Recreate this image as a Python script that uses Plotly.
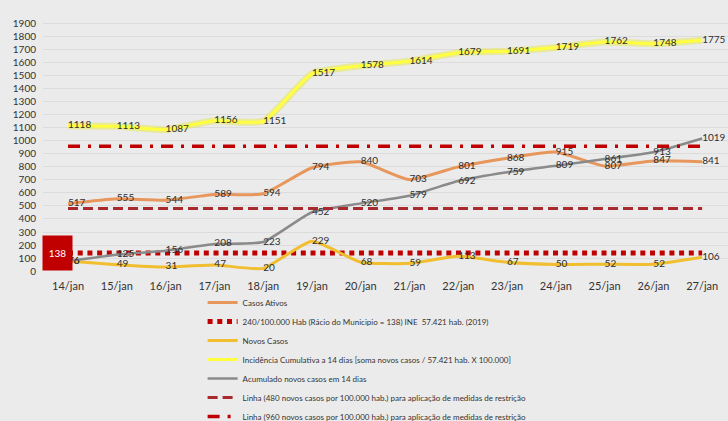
import plotly.graph_objects as go

dates = ["14/jan", "15/jan", "16/jan", "17/jan", "18/jan", "19/jan", "20/jan",
         "21/jan", "22/jan", "23/jan", "24/jan", "25/jan", "26/jan", "27/jan"]
casos_ativos = [517, 555, 544, 589, 594, 794, 840, 703, 801, 868, 915, 807, 847, 841]
ratio_municipio = [138] * 14
novos_casos = [76, 49, 31, 47, 20, 229, 68, 59, 113, 67, 50, 52, 52, 106]
incidencia = [1118, 1113, 1087, 1156, 1151, 1517, 1578, 1614, 1679, 1691, 1719, 1762, 1748, 1775]
acumulado = [76, 125, 156, 208, 223, 452, 520, 579, 692, 759, 809, 861, 913, 1019]
linha_480 = [480] * 14
linha_960 = [960] * 14
y_ticks = list(range(0, 2000, 100))

names = [
    "Casos Ativos",
    "240/100.000 Hab (Rácio do Municipio = 138) INE  57.421 hab. (2019)",
    "Novos Casos",
    "Incidência Cumulativa a 14 dias [soma novos casos / 57.421 hab. X 100.000]",
    "Acumulado novos casos em 14 dias",
    "Linha (480 novos casos por 100.000 hab.) para aplicação de medidas de restrição",
    "Linha (960 novos casos por 100.000 hab.) para aplicação de medidas de restrição",
]

FONT = "Lato"
lbl_font = dict(family=FONT, size=10, color="#2e2e2e")

fig = go.Figure()

# Casos Ativos
fig.add_trace(go.Scatter(
    x=dates, y=casos_ativos, name=names[0], mode="lines+text",
    line=dict(color="#E8975C", width=3, shape="spline", smoothing=0.5),
    text=[str(v) for v in casos_ativos], textposition="middle right",
    textfont=lbl_font, cliponaxis=False))

# 138 dotted line
fig.add_trace(go.Scatter(
    x=dates, y=ratio_municipio, name=names[1], mode="lines",
    line=dict(color="#C00000", width=5, dash="5px,4.7px")))

# Novos Casos
fig.add_trace(go.Scatter(
    x=dates, y=novos_casos, name=names[2], mode="lines+text",
    line=dict(color="#F0BE2E", width=3, shape="spline", smoothing=0.5),
    text=[str(v) for v in novos_casos], textposition="middle right",
    textfont=lbl_font, cliponaxis=False))

# Incidencia glow
fig.add_trace(go.Scatter(
    x=dates, y=incidencia, mode="lines", showlegend=False, hoverinfo="skip",
    line=dict(color="rgba(230,230,60,0.45)", width=7, shape="spline", smoothing=0.5)))
fig.add_trace(go.Scatter(
    x=dates, y=incidencia, name=names[3], mode="lines+text",
    line=dict(color="#FFFF40", width=3, shape="spline", smoothing=0.5),
    text=[str(v) for v in incidencia], textposition="middle right",
    textfont=lbl_font, cliponaxis=False))

# Acumulado
fig.add_trace(go.Scatter(
    x=dates, y=acumulado, name=names[4], mode="lines+text",
    line=dict(color="#8A8A8A", width=2.5, shape="spline", smoothing=0.5),
    text=[str(v) for v in acumulado], textposition="middle right",
    textfont=lbl_font, cliponaxis=False))

# 480 dashed
fig.add_trace(go.Scatter(
    x=dates, y=linha_480, name=names[5], mode="lines",
    line=dict(color="#A82A2E", width=3, dash="10px,5px")))

# 960 dash-dot
fig.add_trace(go.Scatter(
    x=dates, y=linha_960, name=names[6], mode="lines",
    line=dict(color="#C00000", width=3.5, dash="12px,8px,3px,8px")))

fig.add_annotation(
    x=dates[0], y=ratio_municipio[0], text="138", showarrow=False,
    xanchor="right", yanchor="middle", xshift=5,
    width=25, height=30, borderpad=2, bgcolor="#C00000",
    font=dict(family=FONT, size=10, color="white"))

fig.update_layout(
    width=728, height=421,
    margin=dict(l=43, r=0, t=15, b=150, autoexpand=False),
    paper_bgcolor="#EBEBEB", plot_bgcolor="#EBEBEB",
    font=dict(family=FONT, color="#333333"),
    showlegend=True,
    legend=dict(x=0.233, y=-0.066, xanchor="left", yanchor="top",
                bgcolor="rgba(0,0,0,0)", font=dict(family=FONT, size=8, color="#333333"),
                tracegroupgap=0),
    xaxis=dict(type="category", range=[-0.513, 13.53], showgrid=False,
               showline=False, zeroline=False,
               ticks="outside", ticklen=5, tickcolor="rgba(0,0,0,0)",
               tickfont=dict(family=FONT, size=11, color="#333333")),
    yaxis=dict(range=[0, 1969], tickvals=y_ticks, showgrid=True,
               gridcolor="#DCDCDC", gridwidth=1, zeroline=False,
               ticks="outside", ticklen=4, tickcolor="rgba(0,0,0,0)",
               tickfont=dict(family=FONT, size=10, color="#333333")),
)

fig.write_html("out.html", config={"displayModeBar": False},
               post_script="document.body.style.margin='0';document.body.style.background='#EBEBEB';")
